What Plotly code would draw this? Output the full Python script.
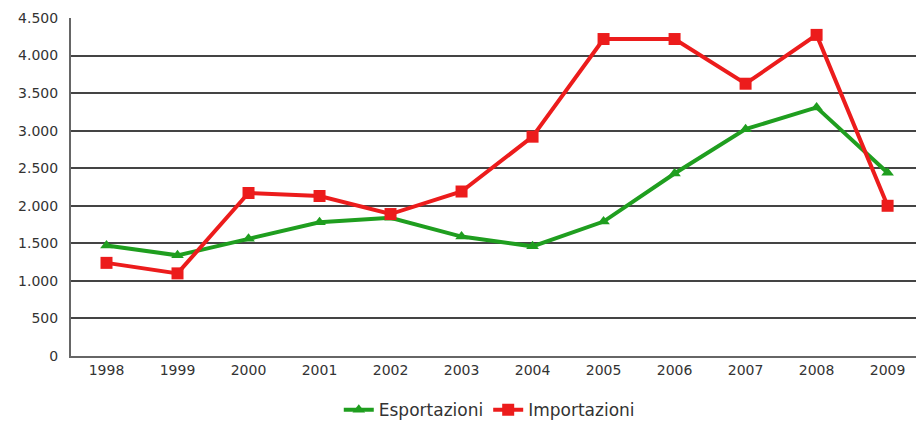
import plotly.graph_objects as go

# Annual trade values
years = ["1998", "1999", "2000", "2001", "2002", "2003",
         "2004", "2005", "2006", "2007", "2008", "2009"]
esportazioni = [1470, 1340, 1560, 1780, 1840, 1590, 1460, 1790, 2430, 3020, 3310, 2440]
importazioni = [1240, 1100, 2170, 2130, 1890, 2190, 2920, 4220, 4220, 3625, 4275, 2000]

y_ticks = [0, 500, 1000, 1500, 2000, 2500, 3000, 3500, 4000, 4500]
y_tick_text = ["0", "500", "1.000", "1.500", "2.000", "2.500",
               "3.000", "3.500", "4.000", "4.500"]

GREEN = "#1f9e1f"
RED = "#ec1c1c"
FONT = "DejaVu Sans, Verdana, sans-serif"

fig = go.Figure()
fig.add_trace(go.Scatter(
    x=years, y=esportazioni, name="Esportazioni",
    mode="lines+markers",
    line=dict(color=GREEN, width=4),
    marker=dict(symbol="triangle-up", size=11, color=GREEN),
))
fig.add_trace(go.Scatter(
    x=years, y=importazioni, name="Importazioni",
    mode="lines+markers",
    line=dict(color=RED, width=4),
    marker=dict(symbol="square", size=12, color=RED),
))

fig.update_layout(
    width=916, height=421,
    margin=dict(l=71, r=0, t=18, b=65, autoexpand=False),
    paper_bgcolor="white",
    plot_bgcolor="white",
    font=dict(family=FONT, size=14, color="#333333"),
    showlegend=True,
    legend=dict(
        orientation="h",
        x=0.495, xanchor="center",
        y=-0.16, yanchor="middle",
        font=dict(family=FONT, size=17, color="#333333"),
        itemwidth=30,
        tracegroupgap=0,
    ),
    xaxis=dict(
        type="category",
        range=[-0.5, 11.4],
        showgrid=False,
        showline=True, linecolor="#666666", linewidth=2,
        ticks="", tickfont=dict(size=14, color="#333333"),
        zeroline=False,
    ),
    yaxis=dict(
        range=[0, 4500],
        tickvals=y_ticks, ticktext=y_tick_text,
        showgrid=True, gridcolor="#444444", gridwidth=1.5,
        showline=True, linecolor="#666666", linewidth=2,
        ticks="", tickfont=dict(size=14, color="#333333"),
        ticklabelstandoff=8,
        zeroline=False,
    ),
)

fig.write_html("out.html")
